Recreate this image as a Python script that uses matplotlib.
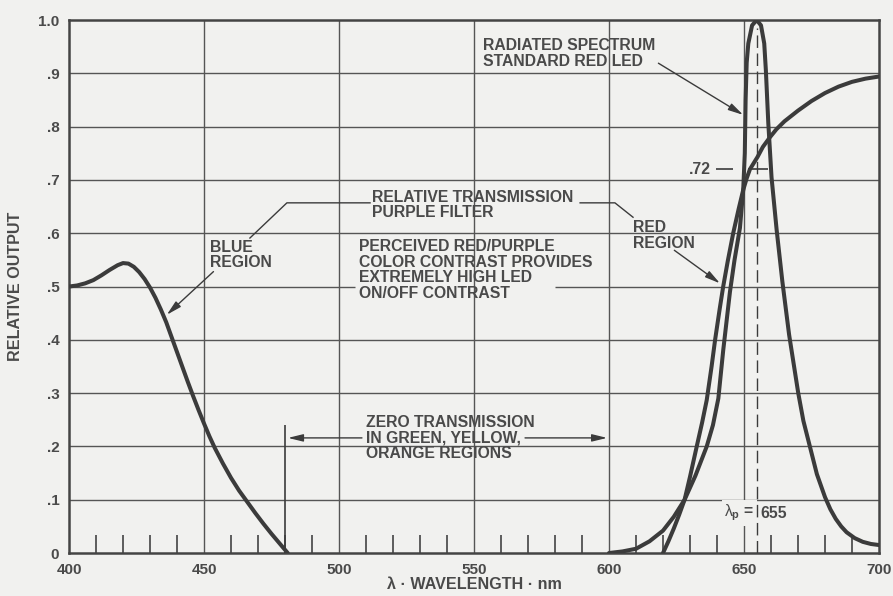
import matplotlib
matplotlib.use('Agg')
import matplotlib.pyplot as plt

# purple filter transmission, blue side
blue_wl = [400, 403, 406, 409, 412, 415, 418, 420, 422, 424, 426, 428, 430, 432, 434, 436, 438, 440,
           442, 444, 446, 448, 450, 452, 454, 457, 460, 463, 466, 469, 472, 475, 478, 481]
blue_tr = [0.500, 0.502, 0.506, 0.512, 0.521, 0.531, 0.540, 0.544, 0.543, 0.537, 0.527, 0.514, 0.498,
           0.479, 0.457, 0.433, 0.405, 0.377, 0.349, 0.321, 0.294, 0.268, 0.243, 0.219, 0.197, 0.168,
           0.141, 0.117, 0.096, 0.075, 0.055, 0.036, 0.018, 0.0]

# purple filter transmission, red side
red_wl = [620, 622, 624, 626, 628, 630, 632.5, 634.5, 636.2, 638, 639.3, 641, 642.3, 644, 646, 648,
          649.7, 651, 652.2, 655, 657, 659.6, 662, 665, 670, 675, 680, 685, 690, 695, 700]
red_tr = [0.0, 0.022, 0.046, 0.072, 0.10, 0.143, 0.20, 0.245, 0.287, 0.35, 0.40, 0.458, 0.50, 0.548,
          0.60, 0.645, 0.681, 0.703, 0.72, 0.743, 0.762, 0.78, 0.795, 0.81, 0.83, 0.848, 0.863, 0.875,
          0.884, 0.89, 0.894]

# radiated spectrum of the standard red LED
led_wl = [600, 605, 610, 615, 620, 624, 628, 632, 636.2, 638.5, 640.5, 642.3, 644.8, 646.5, 648.5,
          649.7, 650.3, 650.6, 651, 651.6, 653, 654.7, 656.3, 657.5, 658.1, 659, 660.2, 662.1, 664.2,
          666.7, 670.1, 672, 674.4, 677, 680, 682, 684, 686, 688, 691, 694, 697, 700]
led_out = [0.0, 0.003, 0.008, 0.022, 0.042, 0.068, 0.10, 0.145, 0.20, 0.24, 0.29, 0.38, 0.49, 0.55,
           0.61, 0.68, 0.75, 0.85, 0.92, 0.956, 0.99, 1.0, 0.99, 0.956, 0.906, 0.807, 0.705, 0.606,
           0.51, 0.41, 0.30, 0.248, 0.20, 0.148, 0.105, 0.082, 0.064, 0.05, 0.039, 0.028, 0.021,
           0.017, 0.015]

peak_wl = 655
trans_at_peak = 0.72

x_ticks = [400, 450, 500, 550, 600, 650, 700]
y_ticks = [0, 0.1, 0.2, 0.3, 0.4, 0.5, 0.6, 0.7, 0.8, 0.9, 1.0]
y_labels = ['0', '.1', '.2', '.3', '.4', '.5', '.6', '.7', '.8', '.9', '1.0']

bg = '#f1f1ef'
ink = '#3b3b3b'
txt = '#4a4a4a'
font = 'Liberation Sans'
fs = 11.3

plt.rcParams['font.family'] = font
plt.rcParams['mathtext.fontset'] = 'custom'
plt.rcParams['mathtext.rm'] = font
plt.rcParams['mathtext.it'] = font
plt.rcParams['mathtext.bf'] = font + ':bold'

fig = plt.figure(figsize=(8.93, 5.96), dpi=100, facecolor=bg)
ax = fig.add_axes([0.0773, 0.0721, 0.9070, 0.8943], facecolor=bg)
ax.set_xlim(400, 700)
ax.set_ylim(0, 1.0)

# grid (the .5 line is broken behind the contrast note)
for x in x_ticks[1:-1]:
    ax.axvline(x, color='#555555', lw=1.0, zorder=1)
for y in y_ticks[1:-1]:
    if y == 0.5:
        ax.hlines(y, 400, 506, color='#555555', lw=1.0, zorder=1)
        ax.hlines(y, 580, 700, color='#555555', lw=1.0, zorder=1)
    else:
        ax.axhline(y, color='#555555', lw=1.0, zorder=1)

for wl, val in [(blue_wl, blue_tr), (red_wl, red_tr), (led_wl, led_out)]:
    ax.plot(wl, val, color=ink, lw=2.9, solid_capstyle='round', solid_joinstyle='round', zorder=5)

ax.vlines(peak_wl, 0, 0.985, color=ink, lw=1.0, linestyles=(0, (9, 4)), zorder=4)
ax.hlines(trans_at_peak, 651.5, 658.9, color=ink, lw=1.2, zorder=4)
ax.hlines(trans_at_peak, 639.8, 646, color=ink, lw=1.2, zorder=4)
ax.text(637.6, trans_at_peak, '.72', ha='right', va='center', fontsize=fs,
        fontweight='bold', color=txt)
ax.text(653.8, 0.075, r'$\lambda_{\mathbf{p}}$ =', ha='right', va='center', fontsize=fs,
        fontweight='bold', color=txt, zorder=3,
        bbox=dict(boxstyle='square,pad=0.15', fc=bg, ec='none'))
ax.text(656.2, 0.075, '655', ha='left', va='center', fontsize=fs,
        fontweight='bold', color=txt, zorder=3,
        bbox=dict(boxstyle='square,pad=0.15', fc=bg, ec='none'))

for s in ax.spines.values():
    s.set_linewidth(1.8)
    s.set_color('#444444')

ax.set_xticks(x_ticks)
ax.set_xticks(range(410, 700, 10), minor=True)
ax.set_yticks(y_ticks)
ax.set_yticklabels(y_labels)
ax.tick_params(which='major', length=0, labelsize=11, labelcolor=txt, pad=7)
ax.tick_params(which='minor', direction='in', length=13, width=1.2, color='#444444')
for lab in ax.get_xticklabels() + ax.get_yticklabels():
    lab.set_fontweight('bold')

ax.set_xlabel('λ · WAVELENGTH · nm', fontsize=11.6, fontweight='bold', color=txt)
ax.set_ylabel('RELATIVE OUTPUT', fontsize=11.6, fontweight='bold', color=txt)
ax.xaxis.set_label_coords(0.5, -0.045)
ax.yaxis.set_label_coords(-0.057, 0.5)

note = dict(fontsize=fs, fontweight='bold', color=txt, va='top', ha='left', linespacing=1.05)
ax.text(553.3, 0.966, 'RADIATED SPECTRUM\nSTANDARD RED LED', **note)
ax.text(452.2, 0.588, 'BLUE\nREGION', **note)
ax.text(512.2, 0.682, 'RELATIVE TRANSMISSION\nPURPLE FILTER', **note)
ax.text(507.4, 0.589, 'PERCEIVED RED/PURPLE\nCOLOR CONTRAST PROVIDES\nEXTREMELY HIGH LED\nON/OFF CONTRAST', **note)
ax.text(608.9, 0.624, 'RED\nREGION', **note)
ax.text(510, 0.259, 'ZERO TRANSMISSION\nIN GREEN, YELLOW,\nORANGE REGIONS', **note)

lead = dict(color=ink, lw=1.0, zorder=3)
ax.plot([467.0, 480.7, 511.5], [0.591, 0.657, 0.657], **lead)
ax.plot([589.3, 602.2, 608.9], [0.657, 0.657, 0.630], **lead)
ax.vlines(480, 0, 0.24, color=ink, lw=1.2, zorder=3)

arrow = dict(arrowstyle='-|>,head_length=0.9,head_width=0.22', color=ink, lw=1.0,
             shrinkA=0, shrinkB=0)
ax.annotate('', xy=(436.2, 0.447), xytext=(453.5, 0.528), arrowprops=arrow)
ax.annotate('', xy=(641.1, 0.506), xytext=(624.2, 0.568), arrowprops=arrow)
ax.annotate('', xy=(649.7, 0.822), xytext=(618.3, 0.919), arrowprops=arrow)
ax.annotate('', xy=(481.1, 0.216), xytext=(508.5, 0.216), arrowprops=arrow)
ax.annotate('', xy=(599.3, 0.216), xytext=(568.9, 0.216), arrowprops=arrow)

fig.savefig('out.png', dpi=100, facecolor=bg)
